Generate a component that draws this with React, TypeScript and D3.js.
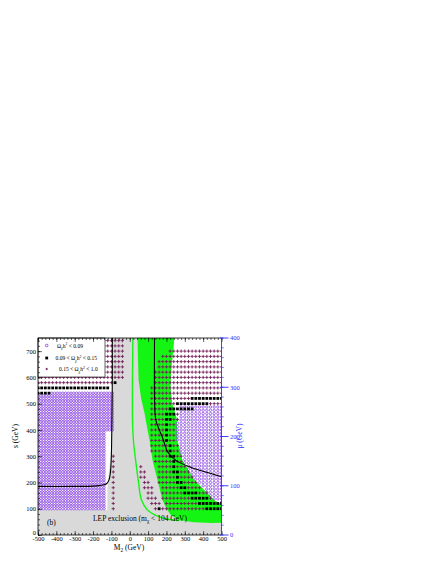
import React, { useEffect, useRef } from "react";
import * as d3 from "d3";

type Pt = [number, number];

// axis ticks
const m2Ticks = [-500, -400, -300, -200, -100, 0, 100, 200, 300, 400, 500];
const sTicks = [0, 100, 200, 300, 400, 500, 600, 700];
const muTicks = [0, 100, 200, 300, 400];

// outlines, as (M2, s) pairs
const whiteLeft: Pt[] = [[-500, 750], [-96, 750], [-96, 400], [-104, 300], [-115, 230], [-122, 180], [-122, 95], [-500, 95]];
const bandLeft: Pt[] = [[42, 750], [48, 590], [62, 520], [80, 465], [97, 400], [108, 361], [124, 285], [151, 209], [178, 133], [200, 100], [225, 75], [270, 56], [350, 49], [450, 46], [500, 47]];
const bandRight: Pt[] = [[243, 750], [235, 690], [225, 620], [222, 560], [232, 500], [245, 470], [257, 440], [260, 360], [287, 285], [352, 209], [460, 133], [500, 116]];
const bandInnerLine: Pt[] = [[17, 750], [15, 437], [20, 360], [32, 285], [48, 200], [64, 133], [97, 95], [151, 72], [205, 61], [270, 55]];
const curveNeg: Pt[] = [[-500, 185], [-300, 185], [-200, 186], [-165, 188], [-140, 191], [-125, 196], [-113, 210], [-106, 235], [-102, 270], [-99, 340], [-97, 450], [-95, 600], [-95, 750]];
const curvePos: Pt[] = [[135, 750], [135, 520], [138, 460], [145, 430], [158, 405], [180, 368], [207, 316], [253, 283], [343, 255], [434, 236], [500, 222]];

// scanned areas for each relic density class
const circlesLeftArea: Pt[] = [[-505, 535], [-430, 535], [-430, 545], [-86, 545], [-86, 395], [-125, 395], [-125, 95], [-505, 95]];
const circlesRightArea: Pt[] = [[505, 490], [280, 490], [262, 460], [258, 400], [260, 360], [287, 285], [352, 209], [460, 133], [505, 116]];
const crossesLeftArea: Pt[] = [[-505, 745], [-35, 745], [-35, 595], [-95, 595], [-95, 575], [-505, 575]];
const crossesRightArea: Pt[] = [[250, 712], [505, 712], [505, 95], [195, 95], [175, 135], [158, 205], [140, 280], [108, 330], [105, 440], [108, 520], [130, 600], [150, 660], [185, 690]];
const crossesIsland: Pt[] = [[50, 270], [70, 270], [90, 215], [125, 175], [150, 140], [185, 95], [135, 95], [95, 130], [70, 190], [50, 240]];
const crossesColumn: Pt[] = [[-90, 100], [-90, 120], [-90, 140], [-90, 160], [-90, 180], [-90, 200], [-90, 220], [-90, 240], [-90, 260], [-90, 280], [-90, 300]];

// rows of black squares: [s, M2 from, M2 to]
const squareRows: [number, number, number][] = [
  [560, -500, -120], [540, -500, -440], [580, -80, -80],
  [520, 340, 500], [500, 260, 420], [480, 220, 340], [460, 200, 240], [440, 200, 220],
  [420, 200, 200], [400, 200, 200], [380, 200, 200], [360, 200, 200], [340, 220, 220],
  [320, 220, 220], [300, 220, 240], [280, 240, 240], [260, 240, 240], [240, 240, 260],
  [220, 260, 260], [200, 260, 280], [180, 280, 300], [160, 300, 360], [140, 340, 420],
  [120, 380, 500], [100, 160, 160], [100, 420, 500],
];

const FONT = "'Liberation Serif', 'Times New Roman', serif";
const GRAY = "#d9d9d9";
const GREEN = "#14f514";
const PURPLE = "#8a46e2";
const CROSS = "#74205a";
const BLUE = "#2f2fff";

const scan = (area: Pt[], m2s: number[], ss: number[]) => {
  const out: Pt[] = [];
  m2s.forEach((m) => ss.forEach((s) => {
    if (d3.polygonContains(area, [m, s])) out.push([m, s]);
  }));
  return out;
};

const Chart = () => {
  const ref = useRef<SVGSVGElement>(null);

  useEffect(() => {
    if (!ref.current) return;
    const svg = d3.select(ref.current);
    svg.selectAll("*").remove();

    const left = 38, right = 221.5, top = 338, bottom = 535;
    const x = d3.scaleLinear().domain([-500, 500]).range([left, right]);
    const y = d3.scaleLinear().domain([0, 750]).range([bottom, top]);
    const yMu = d3.scaleLinear().domain([0, 400]).range([bottom, top]);

    const poly = d3.line<Pt>().x((d) => x(d[0])).y((d) => y(d[1])).curve(d3.curveLinearClosed);
    const smooth = d3.line<Pt>().x((d) => x(d[0])).y((d) => y(d[1])).curve(d3.curveCatmullRom);

    svg.append("defs").append("clipPath").attr("id", "frame")
      .append("rect").attr("x", left).attr("y", top).attr("width", right - left).attr("height", bottom - top);

    const g = svg.append("g").attr("clip-path", "url(#frame)");

    // background: LEP excluded grey, allowed white, green band
    g.append("rect").attr("x", left).attr("y", top).attr("width", right - left).attr("height", bottom - top).attr("fill", GRAY);
    g.append("path").attr("d", poly(whiteLeft)).attr("fill", "white");
    g.append("path").attr("d", poly([...bandRight, [500, 750]])).attr("fill", "white");
    g.append("path").attr("d", poly([...bandLeft, ...bandRight.slice().reverse()])).attr("fill", GREEN);
    g.append("path").attr("d", smooth(bandInnerLine)).attr("fill", "none").attr("stroke", GREEN).attr("stroke-width", 1.4);

    // markers
    const squares: Pt[] = [];
    squareRows.forEach(([s, a, b]) => d3.range(a, b + 1, 20).forEach((m) => squares.push([m, s])));
    const sqKey = new Set(squares.map((d) => `${d[0]},${d[1]}`));

    const circles = [
      ...scan(circlesLeftArea, d3.range(-500, -79, 15), d3.range(100, 541, 10)),
      ...scan(circlesRightArea, d3.range(260, 501, 20), d3.range(100, 500, 12.5)),
    ];
    const crossGridM2 = d3.range(-500, 501, 20);
    const crossGridS = d3.range(100, 741, 20);
    const crosses = [
      ...scan(crossesLeftArea, crossGridM2, crossGridS),
      ...scan(crossesRightArea, crossGridM2, crossGridS).filter((d) => !d3.polygonContains(circlesRightArea, d)),
      ...scan(crossesIsland, crossGridM2, crossGridS),
      ...crossesColumn,
    ].filter((d) => !sqKey.has(`${d[0]},${d[1]}`));

    g.append("g").selectAll("circle").data(circles).join("circle")
      .attr("cx", (d) => x(d[0])).attr("cy", (d) => y(d[1])).attr("r", 1.2)
      .attr("fill", "none").attr("stroke", PURPLE).attr("stroke-width", 0.8);

    g.append("g").selectAll("path").data(crosses).join("path")
      .attr("transform", (d) => `translate(${x(d[0])},${y(d[1])})`)
      .attr("d", "M-1.6,0H1.6M0,-1.6V1.6")
      .attr("stroke", CROSS).attr("stroke-width", 0.9);

    g.append("g").selectAll("rect").data(squares).join("rect")
      .attr("x", (d) => x(d[0]) - 1.4).attr("y", (d) => y(d[1]) - 1.4)
      .attr("width", 2.8).attr("height", 2.8).attr("fill", "black");

    // chargino mass contours
    [curveNeg, curvePos].forEach((c) => {
      g.append("path").attr("d", smooth(c)).attr("fill", "none").attr("stroke", "black").attr("stroke-width", 1.1);
    });

    const rich = (parent: any, px: number, py: number, size: number, parts: [string, string?][], fill = "black") => {
      const t = parent.append("text").attr("x", px).attr("y", py).attr("font-size", size)
        .attr("font-family", FONT).attr("fill", fill).style("white-space", "pre");
      let shift = 0;
      parts.forEach(([str, kind]) => {
        const target = kind === "sub" ? size * 0.3 : kind === "sup" ? -size * 0.4 : 0;
        t.append("tspan").attr("dy", target - shift).attr("font-size", kind ? size * 0.7 : size).text(str);
        shift = target;
      });
      return t;
    };

    // legend
    const lg = svg.append("g");
    lg.append("rect").attr("x", left).attr("y", top).attr("width", 67).attr("height", 39)
      .attr("fill", "white").attr("stroke", "black").attr("stroke-width", 0.6);
    lg.append("circle").attr("cx", 46.7).attr("cy", 345.5).attr("r", 1.3)
      .attr("fill", "none").attr("stroke", PURPLE).attr("stroke-width", 0.9);
    lg.append("rect").attr("x", 45.3).attr("y", 356.6).attr("width", 2.8).attr("height", 2.8).attr("fill", "black");
    lg.append("path").attr("transform", "translate(46.7,369)").attr("d", "M-1.1,0H1.1M0,-1.1V1.1")
      .attr("stroke", CROSS).attr("stroke-width", 1);
    rich(lg, 57, 347.5, 5.5, [["Ω"], ["χ", "sub"], ["h"], ["2", "sup"], [" < 0.09"]]);
    rich(lg, 55.5, 360, 5.5, [["0.09 < Ω"], ["χ", "sub"], ["h"], ["2", "sup"], [" < 0.15"]]);
    rich(lg, 59, 371, 5.5, [["0.15 < Ω"], ["χ", "sub"], ["h"], ["2", "sup"], [" < 1.0"]]);

    // in-plot labels
    rich(svg, 47, 525, 7.5, [["(b)"]]);
    rich(svg, 93, 521, 7.5, [["LEP exclusion (m"], ["χ", "sub"], [" < 104 GeV)"]]);

    // axes
    const styleAxis = (a: any, color = "black") => {
      a.select(".domain").remove();
      a.selectAll("line").attr("stroke", color).attr("stroke-width", 0.6);
      a.selectAll("text").attr("font-family", FONT).attr("font-size", 6.5).attr("fill", color);
    };
    const minorX = d3.range(-500, 501, 20);
    const minorS = d3.range(0, 751, 20);

    styleAxis(svg.append("g").attr("transform", `translate(0,${bottom})`)
      .call(d3.axisBottom(x).tickValues(minorX).tickSize(-2).tickSizeOuter(0).tickFormat(() => "")));
    styleAxis(svg.append("g").attr("transform", `translate(0,${bottom})`)
      .call(d3.axisBottom(x).tickValues(m2Ticks).tickSize(-4).tickSizeOuter(0).tickPadding(1).tickFormat((d) => String(d))));
    styleAxis(svg.append("g").attr("transform", `translate(0,${top})`)
      .call(d3.axisTop(x).tickValues(minorX).tickSize(-2).tickSizeOuter(0).tickFormat(() => "")));
    styleAxis(svg.append("g").attr("transform", `translate(0,${top})`)
      .call(d3.axisTop(x).tickValues(m2Ticks).tickSize(-4).tickSizeOuter(0).tickFormat(() => "")));
    styleAxis(svg.append("g").attr("transform", `translate(${left},0)`)
      .call(d3.axisLeft(y).tickValues(minorS).tickSize(-2).tickSizeOuter(0).tickFormat(() => "")));
    const leftAxis = svg.append("g").attr("transform", `translate(${left},0)`)
      .call(d3.axisLeft(y).tickValues(sTicks).tickSize(-4).tickSizeOuter(0).tickPadding(2).tickFormat((d) => String(d)));
    styleAxis(leftAxis);
    // the zero label sits a little higher, clear of the bottom labels
    leftAxis.selectAll("text").filter((d: any) => d === 0).attr("dy", "-0.1em");

    // frame
    svg.append("path").attr("d", `M${right},${top}H${left}V${bottom}H${right}`)
      .attr("fill", "none").attr("stroke", "black").attr("stroke-width", 0.8);

    // right mu axis, blue
    const ra = svg.append("g");
    ra.append("line").attr("x1", right).attr("x2", right).attr("y1", top).attr("y2", bottom)
      .attr("stroke", BLUE).attr("stroke-width", 0.9);
    ra.selectAll(".minor").data(d3.range(0, 401, 20)).join("line")
      .attr("x1", right).attr("x2", right + 2.2).attr("y1", (d) => yMu(d)).attr("y2", (d) => yMu(d))
      .attr("stroke", BLUE).attr("stroke-width", 0.7);
    ra.selectAll(".major").data(muTicks).join("g").each(function (d) {
      const sel = d3.select(this);
      sel.append("line").attr("x1", right - 1.5).attr("x2", right + 7).attr("y1", yMu(d)).attr("y2", yMu(d))
        .attr("stroke", BLUE).attr("stroke-width", 0.9);
      sel.append("text").attr("x", right + 8.5).attr("y", yMu(d)).attr("dy", "0.35em")
        .attr("font-family", FONT).attr("font-size", 6.5).attr("fill", BLUE).text(d);
    });

    // axis titles
    const xt = rich(svg, 129, 549.5, 7.5, [["M"], ["2", "sub"], [" (GeV)"]]);
    xt.attr("text-anchor", "middle");
    svg.append("text").attr("transform", "translate(18,436) rotate(-90)").attr("text-anchor", "middle")
      .attr("font-family", FONT).attr("font-size", 7.5).text("s (GeV)");
    svg.append("text").attr("transform", "translate(242,436) rotate(-90)").attr("text-anchor", "middle")
      .attr("font-family", FONT).attr("font-size", 7.5).attr("fill", BLUE).text("μ (GeV)");
  }, []);

  return (
    <svg ref={ref} width={443} height={573}
      style={{ position: "absolute", left: 0, top: 0, background: "white" }} />
  );
};

export default function App() {
  return <Chart />;
}
